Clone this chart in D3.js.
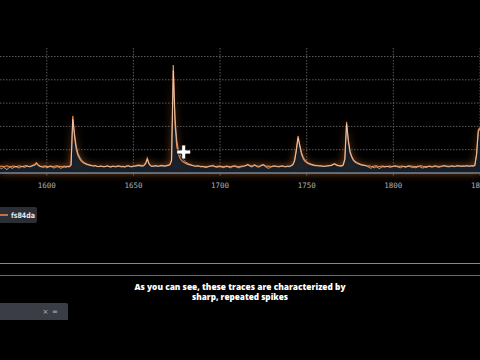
<!DOCTYPE html>
<html><head><meta charset="utf-8">
<script src="https://cdn.jsdelivr.net/npm/d3@7"></script>
<style>
html,body{margin:0;padding:0;background:#000;overflow:hidden;}
svg{display:block;}
</style></head>
<body>
<svg id="c" width="480" height="360"></svg>
<script>
// ---- data ----
const frameStart = 1573, frameEnd = 1850;
const xTicks = [1600, 1650, 1700, 1750, 1800, 1850];
const yGrid = [0, 1, 2, 3, 4, 5];
const seriesName = "fs84da";
const orangeValues = [
0.28,0.30,0.27,0.29,0.31,0.28,0.26,0.29,0.30,0.27,
0.28,0.31,0.29,0.27,0.30,0.32,0.29,0.28,0.30,0.33,
0.36,0.44,0.36,0.30,0.28,0.29,0.31,0.27,0.28,0.30,
0.29,0.27,0.30,0.31,0.28,0.29,0.27,0.30,0.28,0.29,
0.28,0.35,2.45,1.55,1.00,0.75,0.60,0.50,0.44,0.40,
0.37,0.35,0.33,0.31,0.30,0.32,0.29,0.28,0.30,0.29,
0.27,0.29,0.31,0.28,0.27,0.30,0.29,0.28,0.31,0.30,
0.28,0.29,0.27,0.30,0.32,0.29,0.28,0.30,0.31,0.33,
0.34,0.33,0.32,0.33,0.42,0.64,0.40,0.31,0.30,0.31,
0.32,0.30,0.31,0.33,0.32,0.31,0.32,0.34,0.36,0.55,
4.63,2.10,1.15,0.80,0.62,0.52,0.46,0.42,0.38,0.36,
0.34,0.32,0.30,0.29,0.31,0.30,0.28,0.29,0.27,0.26,
0.28,0.30,0.31,0.29,0.27,0.28,0.30,0.29,0.28,0.27,
0.29,0.30,0.28,0.27,0.29,0.31,0.30,0.28,0.27,0.29,
0.30,0.31,0.33,0.37,0.33,0.30,0.32,0.35,0.31,0.29,
0.30,0.34,0.36,0.31,0.29,0.30,0.28,0.29,0.31,0.30,
0.29,0.28,0.30,0.31,0.29,0.28,0.30,0.29,0.32,0.36,
0.55,1.00,1.59,1.15,0.80,0.60,0.50,0.44,0.40,0.37,
0.35,0.33,0.32,0.31,0.30,0.31,0.30,0.29,0.30,0.31,
0.32,0.33,0.36,0.40,0.36,0.33,0.32,0.31,0.34,0.60,
2.20,1.35,0.88,0.66,0.53,0.46,0.42,0.39,0.36,0.34,
0.33,0.32,0.30,0.31,0.29,0.28,0.30,0.31,0.29,0.28,
0.29,0.30,0.28,0.27,0.29,0.30,0.28,0.29,0.31,0.30,
0.28,0.29,0.30,0.28,0.27,0.29,0.31,0.30,0.29,0.28,
0.27,0.29,0.30,0.31,0.29,0.28,0.27,0.29,0.30,0.28,
0.29,0.31,0.30,0.28,0.29,0.30,0.32,0.31,0.30,0.29,
0.30,0.31,0.29,0.30,0.32,0.31,0.30,0.31,0.30,0.32,
0.31,0.30,0.32,0.31,0.33,0.80,1.85,1.95
];
const greyValues = [
0.22,0.18,0.25,0.20,0.14,0.22,0.26,0.19,0.24,0.27,
0.25,0.21,0.26,0.28,0.24,0.27,0.30,0.26,0.28,0.31,
0.33,0.38,0.32,0.28,0.26,0.24,0.27,0.22,0.25,0.28,
0.26,0.21,0.24,0.27,0.25,0.20,0.23,0.26,0.24,0.27,
0.26,0.32,2.30,1.70,1.15,0.85,0.68,0.56,0.48,0.43,
0.39,0.36,0.34,0.32,0.30,0.31,0.28,0.27,0.29,0.28,
0.26,0.28,0.30,0.27,0.25,0.28,0.27,0.26,0.29,0.28,
0.26,0.27,0.25,0.28,0.30,0.27,0.26,0.28,0.29,0.30,
0.31,0.30,0.29,0.30,0.38,0.58,0.38,0.29,0.28,0.29,
0.30,0.28,0.29,0.31,0.30,0.29,0.30,0.32,0.34,0.50,
4.40,2.40,1.40,0.98,0.78,0.65,0.55,0.48,0.43,0.39,
0.36,0.33,0.31,0.29,0.30,0.28,0.26,0.27,0.25,0.24,
0.26,0.28,0.30,0.34,0.28,0.24,0.26,0.27,0.25,0.23,
0.26,0.28,0.25,0.22,0.26,0.29,0.27,0.24,0.22,0.26,
0.27,0.29,0.31,0.35,0.30,0.26,0.28,0.33,0.28,0.25,
0.27,0.32,0.34,0.28,0.23,0.20,0.24,0.27,0.29,0.28,
0.27,0.26,0.28,0.29,0.27,0.26,0.28,0.27,0.30,0.34,
0.50,0.95,1.50,1.20,0.88,0.68,0.56,0.48,0.43,0.40,
0.37,0.35,0.33,0.32,0.31,0.30,0.29,0.28,0.29,0.30,
0.31,0.32,0.35,0.38,0.34,0.31,0.30,0.29,0.32,0.56,
2.10,1.45,0.95,0.72,0.58,0.50,0.45,0.41,0.38,0.35,
0.34,0.32,0.28,0.24,0.20,0.25,0.22,0.27,0.23,0.19,
0.24,0.27,0.25,0.29,0.27,0.24,0.26,0.28,0.29,0.27,
0.25,0.22,0.26,0.28,0.24,0.27,0.29,0.26,0.23,0.25,
0.22,0.26,0.28,0.24,0.21,0.25,0.23,0.27,0.28,0.25,
0.26,0.29,0.27,0.24,0.26,0.28,0.30,0.29,0.27,0.26,
0.28,0.29,0.27,0.28,0.30,0.29,0.28,0.29,0.28,0.30,
0.29,0.28,0.30,0.29,0.31,0.75,1.75,1.90
];
const captionLines = ["As you can see, these traces are characterized by", "sharp, repeated spikes"];

// ---- drawing ----
const svg = d3.select("#c");
const frames = d3.range(frameStart, frameEnd + 1);
const x = d3.scaleLinear().domain([frameStart, frameEnd]).range([0, 480]);
const y = d3.scaleLinear().domain([0, 5]).range([173, 56.5]);

const defs = svg.append("defs");
defs.append("filter").attr("id", "glow").attr("x", "-50%").attr("width", "200%")
  .append("feGaussianBlur").attr("stdDeviation", 4);

// grid
svg.append("g").selectAll("line").data(yGrid.filter(d => d > 0)).join("line")
  .attr("x1", 0).attr("x2", 480).attr("y1", d => y(d)).attr("y2", d => y(d))
  .attr("stroke", "#8a8a8a").attr("stroke-width", 1).attr("stroke-dasharray", "1.5,1.5").attr("opacity", 0.65);
svg.append("g").selectAll("line").data(xTicks).join("line")
  .attr("x1", d => x(d)).attr("x2", d => x(d)).attr("y1", 48).attr("y2", 177)
  .attr("stroke", "#8a8a8a").attr("stroke-width", 1).attr("stroke-dasharray", "1.5,1.5").attr("opacity", 0.65);

const dataO = frames.map((f, i) => [f, orangeValues[i]]);
const dataG = frames.map((f, i) => [f, greyValues[i]]);

// glow areas
const area = d3.area().x(d => x(d[0])).y0(y(0)).y1(d => y(d[1]));
svg.append("path").datum(dataO).attr("d", area)
  .attr("fill", "#e07a35").attr("opacity", 0.6).attr("filter", "url(#glow)");
svg.append("path").datum(dataG).attr("d", area)
  .attr("fill", "#0e1c2a").attr("opacity", 0.85);

// baseline
svg.append("line").attr("x1", 0).attr("x2", 480).attr("y1", y(0)).attr("y2", y(0))
  .attr("stroke", "#a2b6cc").attr("stroke-width", 1.1);

const line = d3.line().x(d => x(d[0])).y(d => y(d[1]));
svg.append("path").datum(dataO).attr("d", line)
  .attr("fill", "none").attr("stroke", "#ee8a48").attr("stroke-width", 1.2);
svg.append("path").datum(dataG).attr("d", line)
  .attr("fill", "none").attr("stroke", "#e6e0da").attr("stroke-width", 0.9).attr("opacity", 0.75);

// ticks
svg.append("g").selectAll("text").data(xTicks).join("text")
  .attr("x", d => x(d)).attr("y", 188).attr("text-anchor", "middle")
  .attr("font-family", "DejaVu Sans Mono").attr("font-size", 7.5).attr("fill", "#b0b0b0")
  .text(d => d);

// cursor decoration
const cx = x(1679), cy = y(0.9);
svg.append("path")
  .attr("d", `M${cx-2},${cy-7}h4v5h5v4h-5v5h-4v-5h-5v-4h5z`)
  .attr("fill", "#fff").attr("stroke", "#000").attr("stroke-width", 0.8);

// legend
const lg = svg.append("g");
lg.append("rect").attr("x", -4).attr("y", 207).attr("width", 41).attr("height", 16).attr("rx", 2).attr("fill", "#2c2e35");
lg.append("line").attr("x1", 0).attr("x2", 8).attr("y1", 215).attr("y2", 215).attr("stroke", "#ee8a48").attr("stroke-width", 1.5);
lg.append("text").attr("x", 11).attr("y", 218).attr("font-family", "DejaVu Sans").attr("font-weight", "bold")
  .attr("font-size", 7.5).attr("fill", "#e8e8e8").attr("textLength", 24).attr("lengthAdjust", "spacingAndGlyphs").text(seriesName);

// separator lines
svg.append("line").attr("x1", 0).attr("x2", 480).attr("y1", 263.5).attr("y2", 263.5).attr("stroke", "#8a8a8a").attr("stroke-width", 1);
svg.append("line").attr("x1", 0).attr("x2", 480).attr("y1", 275.5).attr("y2", 275.5).attr("stroke", "#6a6a6a").attr("stroke-width", 1);

// caption
svg.append("g").selectAll("text").data(captionLines).join("text")
  .attr("x", 240).attr("y", (d, i) => 290 + i * 10).attr("text-anchor", "middle")
  .attr("font-family", "Open Sans").attr("font-weight", 800).attr("font-size", 8.5).attr("fill", "#fff")
  .attr("textLength", (d, i) => i === 0 ? 211 : 96).attr("lengthAdjust", "spacingAndGlyphs")
  .text(d => d);

// bottom-left panel
svg.append("path").attr("d", "M0,303 H66 Q68,303 68,305 V320 H0 Z").attr("fill", "#3a3d45");
svg.append("text").attr("x", 45.5).attr("y", 313.5).attr("text-anchor", "middle").attr("font-family", "DejaVu Sans")
  .attr("font-size", 7).attr("fill", "#b8bcc4").text("×");
svg.append("text").attr("x", 55).attr("y", 313.5).attr("text-anchor", "middle").attr("font-family", "DejaVu Sans")
  .attr("font-size", 7).attr("fill", "#b8bcc4").text("=");
</script>
</body></html>
